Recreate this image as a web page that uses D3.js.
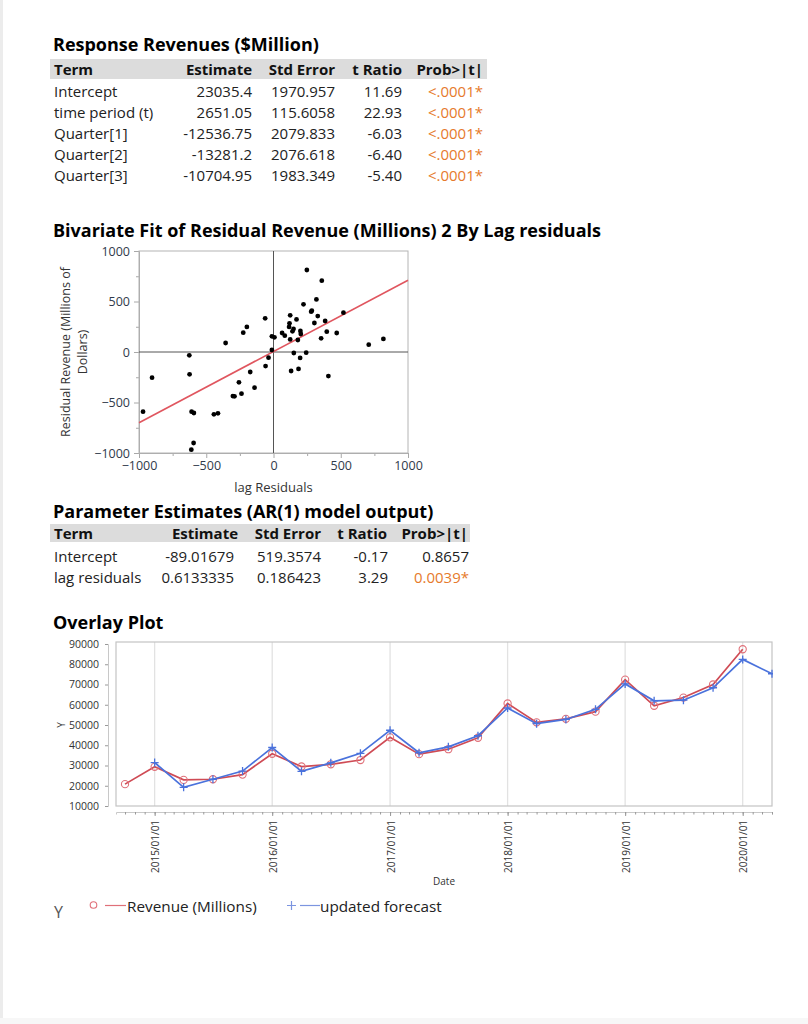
<!DOCTYPE html>
<html>
<head>
<meta charset="utf-8">
<script src="https://cdn.jsdelivr.net/npm/d3@7"></script>
<style>
  html, body { margin: 0; padding: 0; background: #fff; }
  svg { display: block; }
  text { font-family: "Open Sans", "Noto Sans", sans-serif; }
</style>
</head>
<body>
<svg id="chart" width="808" height="1024"></svg>
<script>
// ---------- DATA ----------
const table1Title = "Response Revenues ($Million)";
const tableHeaders = ["Term", "Estimate", "Std Error", "t Ratio", "Prob>|t|"];
const table1Terms = ["Intercept", "time period (t)", "Quarter[1]", "Quarter[2]", "Quarter[3]"];
const table1Estimate = ["23035.4", "2651.05", "-12536.75", "-13281.2", "-10704.95"];
const table1StdError = ["1970.957", "115.6058", "2079.833", "2076.618", "1983.349"];
const table1TRatio = ["11.69", "22.93", "-6.03", "-6.40", "-5.40"];
const table1Prob = ["<.0001*", "<.0001*", "<.0001*", "<.0001*", "<.0001*"];
const table1Signif = [true, true, true, true, true];

const scatterTitle = "Bivariate Fit of Residual Revenue (Millions) 2 By Lag residuals";
const lagResiduals = [248, 359, 319, 223, 285, 280, 124, -62, 329, 171, 520, 384, 304, 119, -198, -225, 116, 149, 141, 200,
  64, 84, 396, 470, 203, -12, 7, 124, 354, 181, -356, 708, 817, -12, 151, 243, -626, -37, 198, -59,
  131, 186, 408, -624, -903, -173, -257, -141, -238, -302, -290, -609, -592, -443, -413, -970, -594, -611];
const residualRevenue = [812, 706, 521, 472, 409, 399, 363, 333, 356, 323, 389, 307, 287, 284, 248, 191, 248, 228, 205, 208,
  188, 162, 201, 188, 178, 155, 145, 125, 135, 119, 89, 73, 129, 20, -10, -7, -33, -56, -59, -139,
  -188, -168, -238, -221, -254, -198, -300, -353, -413, -436, -439, -591, -604, -617, -607, -591, -901, -967];
const fitLineX = [-1000, 1000];
const fitLineY = [-700, 710];
const scatterTicks = [-1000, -500, 0, 500, 1000];
const scatterXLabel = "lag Residuals";
const scatterYLabel = ["Residual Revenue (Millions of", "Dollars)"];

const table2Title = "Parameter Estimates (AR(1) model output)";
const table2Terms = ["Intercept", "lag residuals"];
const table2Estimate = ["-89.01679", "0.6133335"];
const table2StdError = ["519.3574", "0.186423"];
const table2TRatio = ["-0.17", "3.29"];
const table2Prob = ["0.8657", "0.0039*"];
const table2Signif = [false, true];

const overlayTitle = "Overlay Plot";
const revenueDates = ["2014-10-01", "2015-01-01", "2015-04-01", "2015-07-01", "2015-10-01", "2016-01-01", "2016-04-01", "2016-07-01",
  "2016-10-01", "2017-01-01", "2017-04-01", "2017-07-01", "2017-10-01", "2018-01-01", "2018-04-01", "2018-07-01", "2018-10-01",
  "2019-01-01", "2019-04-01", "2019-07-01", "2019-10-01", "2020-01-01"];
const revenueValues = [20800, 29350, 22900, 23200, 25500, 35800, 29500, 30600, 32700, 43900, 35600, 38050, 43700, 60650,
  51300, 53050, 56600, 72400, 59500, 63550, 70000, 87400];
const forecastDates = ["2015-01-01", "2015-04-01", "2015-07-01", "2015-10-01", "2016-01-01", "2016-04-01", "2016-07-01",
  "2016-10-01", "2017-01-01", "2017-04-01", "2017-07-01", "2017-10-01", "2018-01-01", "2018-04-01", "2018-07-01", "2018-10-01",
  "2019-01-01", "2019-04-01", "2019-07-01", "2019-10-01", "2020-01-01", "2020-04-01"];
const forecastValues = [31450, 19200, 23200, 27250, 38900, 27100, 31300, 36000, 47400, 36300, 39200, 44700, 58400,
  50650, 52750, 57750, 70300, 61950, 62250, 68400, 82400, 75300];
const overlayYTicks = [10000, 20000, 30000, 40000, 50000, 60000, 70000, 80000, 90000];
const overlayXTicks = ["2015-01-01", "2016-01-01", "2017-01-01", "2018-01-01", "2019-01-01", "2020-01-01"];
const overlayXLabel = "Date";
const overlayYLabel = "Y";
const legendNames = ["Revenue (Millions)", "updated forecast"];

// ---------- STYLE ----------
const RED = "#cf4b55";
const FITRED = "#e0565f";
const BLUE = "#4a72dc";
const ORANGE = "#e67a2c";
const AXISTXT = "#2f3a4a";
const TITLE_FS = 18;
const TABLE_FS = 15;

const svg = d3.select("#chart");
svg.append("rect").attr("x", 0).attr("y", 0).attr("width", 808).attr("height", 1024).attr("fill", "#fff");
svg.append("rect").attr("x", 0).attr("y", 0).attr("width", 3).attr("height", 1024).attr("fill", "#ececec");
svg.append("rect").attr("x", 0).attr("y", 1018).attr("width", 808).attr("height", 6).attr("fill", "#f7f7f7");

// ---------- TABLE helper ----------
function drawTable(opts) {
  const g = svg.append("g");
  g.append("text").attr("x", opts.x).attr("y", opts.titleY)
    .attr("font-size", TITLE_FS).attr("font-weight", "bold").attr("fill", "#000").text(opts.title);
  g.append("rect").attr("x", opts.barX).attr("y", opts.barY).attr("width", opts.barW).attr("height", opts.barH)
    .attr("fill", "#dcdcdc");
  tableHeaders.forEach((h, i) => {
    g.append("text").attr("x", i === 0 ? opts.termX : opts.headRights[i - 1]).attr("y", opts.headY)
      .attr("text-anchor", i === 0 ? "start" : "end")
      .attr("font-size", TABLE_FS).attr("font-weight", "bold").attr("fill", "#111").text(h);
  });
  opts.terms.forEach((t, r) => {
    const y = opts.rowY0 + r * opts.rowH;
    const vals = [opts.est[r], opts.se[r], opts.tr[r], opts.prob[r]];
    g.append("text").attr("x", opts.termX).attr("y", y).attr("font-size", TABLE_FS).attr("fill", "#222").text(t);
    vals.forEach((v, c) => {
      g.append("text").attr("x", opts.colRights[c]).attr("y", y).attr("text-anchor", "end")
        .attr("font-size", TABLE_FS)
        .attr("fill", c === 3 && opts.sig[r] ? ORANGE : "#222").text(v);
    });
  });
}

drawTable({
  title: table1Title, x: 53, titleY: 51,
  barX: 50, barY: 59, barW: 437, barH: 20,
  termX: 54, headY: 75,
  headRights: [252, 335, 402, 483],
  colRights: [252, 335, 402, 483],
  rowY0: 96.5, rowH: 21.2,
  terms: table1Terms, est: table1Estimate, se: table1StdError, tr: table1TRatio, prob: table1Prob, sig: table1Signif
});

drawTable({
  title: table2Title, x: 53, titleY: 518,
  barX: 50, barY: 524, barW: 420, barH: 18,
  termX: 54, headY: 539,
  headRights: [238, 321, 387, 468],
  colRights: [234, 321, 388, 469],
  rowY0: 561.5, rowH: 21,
  terms: table2Terms, est: table2Estimate, se: table2StdError, tr: table2TRatio, prob: table2Prob, sig: table2Signif
});

// ---------- SCATTER ----------
(function () {
  const L = 139, R = 408, T = 251, B = 453;
  const x = d3.scaleLinear().domain([-1000, 1000]).range([L, R]);
  const y = d3.scaleLinear().domain([-1000, 1000]).range([B, T]);
  const g = svg.append("g");
  g.append("text").attr("x", 53).attr("y", 237).attr("font-size", TITLE_FS).attr("font-weight", "bold")
    .attr("fill", "#000").text(scatterTitle);

  const minor = d3.range(-1000, 1001, 250);
  const yAxis = d3.axisLeft(y).tickValues(scatterTicks).tickSize(5).tickPadding(4).tickFormat(d3.format("d"));
  g.append("g").attr("transform", `translate(${L},0)`).call(yAxis);
  g.append("g").attr("transform", `translate(${L},0)`)
    .call(d3.axisLeft(y).tickValues(minor.filter(v => !scatterTicks.includes(v))).tickSize(3).tickFormat(""))
    .call(s => s.select(".domain").remove());
  const xAxis = d3.axisBottom(x).tickValues(scatterTicks).tickSize(5).tickPadding(3).tickFormat(d3.format("d"));
  g.append("g").attr("transform", `translate(0,${B})`).call(xAxis);
  g.append("g").attr("transform", `translate(0,${B})`)
    .call(d3.axisBottom(x).tickValues(minor.filter(v => !scatterTicks.includes(v))).tickSize(3).tickFormat(""))
    .call(s => s.select(".domain").remove());
  g.selectAll(".domain").attr("stroke", "#a8a8a8");
  g.selectAll(".tick line").attr("stroke", "#a8a8a8");
  g.selectAll(".tick text").attr("font-size", 12.5).attr("fill", AXISTXT)
    .attr("font-family", '"Open Sans", sans-serif');

  g.append("rect").attr("x", L).attr("y", T).attr("width", R - L).attr("height", B - T)
    .attr("fill", "none").attr("stroke", "#b4b4b4");
  g.append("line").attr("x1", x(0)).attr("x2", x(0)).attr("y1", T).attr("y2", B).attr("stroke", "#555").attr("stroke-width", 1);
  g.append("line").attr("x1", L).attr("x2", R).attr("y1", y(0)).attr("y2", y(0)).attr("stroke", "#555").attr("stroke-width", 1);

  g.append("line").attr("x1", x(fitLineX[0])).attr("y1", y(fitLineY[0]))
    .attr("x2", x(fitLineX[1])).attr("y2", y(fitLineY[1]))
    .attr("stroke", FITRED).attr("stroke-width", 1.6);

  g.selectAll("circle.pt").data(lagResiduals).enter().append("circle").attr("class", "pt")
    .attr("cx", d => x(d)).attr("cy", (d, i) => y(residualRevenue[i])).attr("r", 2.4).attr("fill", "#000");

  g.append("text").attr("x", (L + R) / 2).attr("y", 492).attr("text-anchor", "middle")
    .attr("font-size", 13).attr("fill", "#333").text(scatterXLabel);
  scatterYLabel.forEach((t, i) => {
    g.append("text").attr("transform", `translate(${70 + i * 17},${(T + B) / 2}) rotate(-90)`)
      .attr("text-anchor", "middle").attr("font-size", 12.5).attr("fill", "#333").text(t);
  });
})();

// ---------- OVERLAY ----------
(function () {
  const L = 116, R = 772, T = 642, B = 806;
  const parse = d3.timeParse("%Y-%m-%d");
  const x = d3.scaleTime().domain([new Date(2014, 8, 3), new Date(2020, 3, 1)]).range([L, R]);
  const y = d3.scaleLinear().domain([10000, 90000]).range([B, 644]);
  const g = svg.append("g");
  g.append("text").attr("x", 53).attr("y", 629).attr("font-size", TITLE_FS).attr("font-weight", "bold")
    .attr("fill", "#000").text(overlayTitle);

  const gy = g.append("g").attr("transform", `translate(108,0)`)
    .call(d3.axisLeft(y).tickValues(overlayYTicks).tickSize(3).tickPadding(6).tickFormat(d3.format("d")));
  gy.select(".domain").attr("stroke", "#c8c8c8");
  gy.selectAll(".tick line").attr("stroke", "#999");
  gy.selectAll(".tick text").attr("font-size", 10.5).attr("fill", "#333");

  overlayXTicks.forEach(d => {
    g.append("line").attr("x1", x(parse(d))).attr("x2", x(parse(d))).attr("y1", T).attr("y2", B)
      .attr("stroke", "#e2e2e2").attr("stroke-width", 1.3);
  });
  g.append("rect").attr("x", L).attr("y", T).attr("width", R - L).attr("height", B - T)
    .attr("fill", "none").attr("stroke", "#c4c4c4").attr("stroke-width", 1.2);

  const months = d3.timeMonth.range(new Date(2014, 8, 1), new Date(2020, 4, 1)).filter(d => x(d) >= L && x(d) <= R);
  const gxm = g.append("g").attr("transform", `translate(0,812)`)
    .call(d3.axisBottom(x).tickValues(months).tickSize(2.5).tickFormat(""));
  gxm.select(".domain").attr("stroke", "#c8c8c8");
  gxm.selectAll(".tick line").attr("stroke", "#999");
  const gx = g.append("g").attr("transform", `translate(0,812)`)
    .call(d3.axisBottom(x).tickValues(overlayXTicks.map(parse)).tickSize(4).tickFormat(d3.timeFormat("%Y/%m/%d")));
  gx.select(".domain").remove();
  gx.selectAll(".tick line").attr("stroke", "#999");
  gx.selectAll(".tick text").attr("font-size", 10).attr("fill", "#333")
    .attr("text-anchor", "start").attr("dy", null).attr("y", 0)
    .attr("transform", "translate(0,61) rotate(-90)").attr("dominant-baseline", "central");

  g.append("text").attr("x", 444).attr("y", 885).attr("text-anchor", "middle").attr("font-size", 10)
    .attr("fill", "#333").text(overlayXLabel);
  g.append("text").attr("transform", `translate(61,${(T + B) / 2 + 1}) rotate(-90)`).attr("text-anchor", "middle")
    .attr("dominant-baseline", "central").attr("font-size", 10).attr("fill", "#333").text(overlayYLabel);

  const clip = svg.append("clipPath").attr("id", "ovclip");
  clip.append("rect").attr("x", L).attr("y", T - 6).attr("width", R - L + 1).attr("height", B - T + 6);
  const pg = g.append("g").attr("clip-path", "url(#ovclip)");

  const revPts = revenueDates.map((d, i) => [x(parse(d)), y(revenueValues[i])]);
  const fcPts = forecastDates.map((d, i) => [x(parse(d)), y(forecastValues[i])]);
  const line = d3.line();
  pg.append("path").attr("d", line(revPts)).attr("fill", "none").attr("stroke", RED).attr("stroke-width", 1.7);
  pg.selectAll("circle.rv").data(revPts).enter().append("circle").attr("class", "rv")
    .attr("cx", d => d[0]).attr("cy", d => d[1]).attr("r", 3.6)
    .attr("fill", "none").attr("stroke", "#e07079").attr("stroke-width", 1.1);
  pg.append("path").attr("d", line(fcPts)).attr("fill", "none").attr("stroke", BLUE).attr("stroke-width", 1.7);
  pg.selectAll("path.fc").data(fcPts).enter().append("path").attr("class", "fc")
    .attr("d", d => `M${d[0] - 4},${d[1]}H${d[0] + 4}M${d[0]},${d[1] - 4}V${d[1] + 4}`)
    .attr("stroke", BLUE).attr("stroke-width", 1.3);

  const lg = svg.append("g");
  lg.append("text").attr("x", 54).attr("y", 918).attr("font-size", 16).attr("fill", "#555").text(overlayYLabel);
  lg.append("circle").attr("cx", 93.5).attr("cy", 905).attr("r", 3.3).attr("fill", "none")
    .attr("stroke", "#e07079").attr("stroke-width", 1.1);
  lg.append("line").attr("x1", 105).attr("x2", 126).attr("y1", 905.5).attr("y2", 905.5).attr("stroke", "#e07079").attr("stroke-width", 1.2);
  lg.append("text").attr("x", 127).attr("y", 911.5).attr("font-size", 15.3).attr("fill", "#222").text(legendNames[0]);
  lg.append("path").attr("d", "M287,905.5H296M291.5,901V910").attr("stroke", "#7c95e0").attr("stroke-width", 1.2);
  lg.append("line").attr("x1", 300).attr("x2", 320).attr("y1", 905.5).attr("y2", 905.5).attr("stroke", "#7c95e0").attr("stroke-width", 1.2);
  lg.append("text").attr("x", 320).attr("y", 911.5).attr("font-size", 15.3).attr("fill", "#222").text(legendNames[1]);
})();
</script>
</body>
</html>
